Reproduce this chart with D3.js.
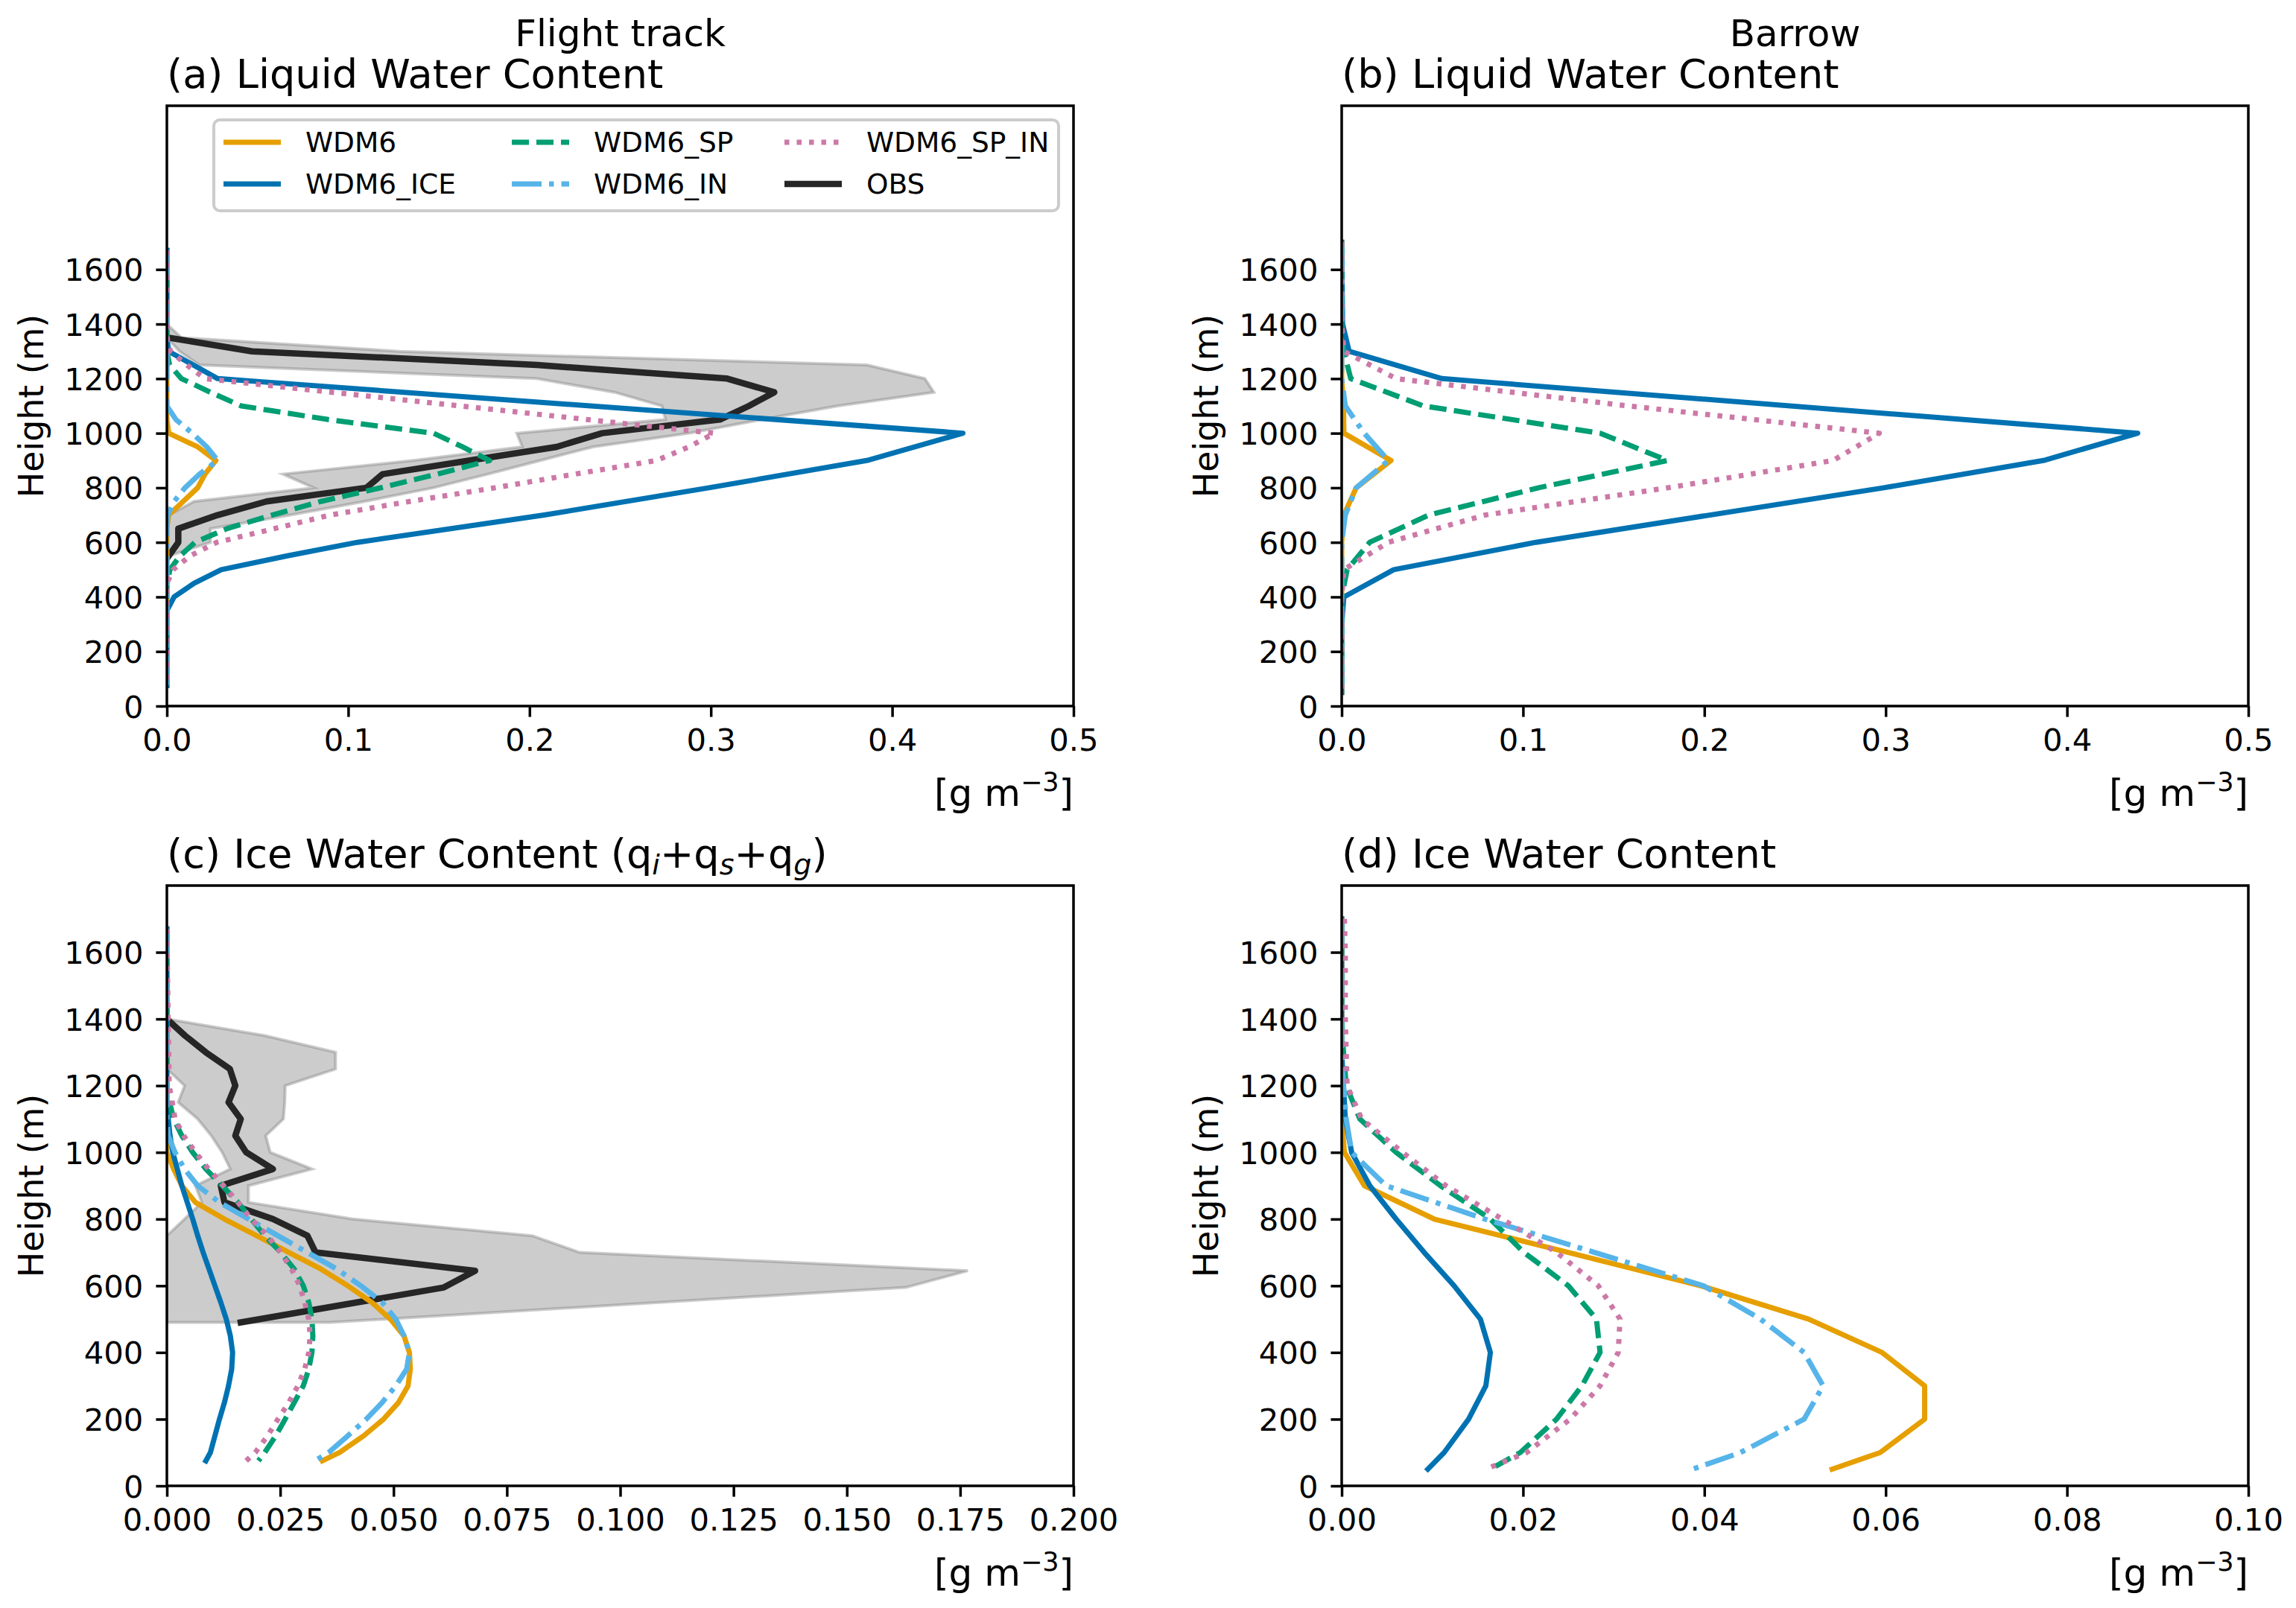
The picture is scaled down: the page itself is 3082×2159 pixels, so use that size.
<!DOCTYPE html>
<html>
<head>
<meta charset="utf-8">
<script src="https://cdn.jsdelivr.net/npm/d3@7"></script>
<style>
  body { margin: 0; background: #fff; }
  text { font-family: "DejaVu Sans", sans-serif; fill: #000; }
</style>
</head>
<body>
<svg id="fig" width="3082" height="2159"></svg>
<script>
// ---- (a) liquid water content, flight track ----
const levelsA = [1670, 1400, 1350, 1300, 1250, 1200, 1150, 1100, 1050, 1000, 950, 900, 850, 800, 750, 700, 650, 600, 550, 500, 450, 400, 350, 75];
const lwcFlightWDM6 = [0, 0, 0, 0, 0, 0, 0, 0, 0, 0.001, 0.017, 0.027, 0.021, 0.017, 0.009, 0.001, 0, 0, 0, 0, 0, 0, 0, 0];
const lwcFlightICE = [0, 0, 0, 0.001, null, 0.028, null, null, null, 0.439, null, 0.386, null, 0.299, null, 0.208, null, 0.105, 0.066, 0.030, 0.015, 0.004, 0, 0];
const lwcFlightSP = [0, 0, 0, 0, 0.0015, 0.008, 0.024, 0.041, 0.089, 0.147, 0.163, 0.178, 0.149, 0.118, 0.085, 0.058, 0.033, 0.0155, 0.0072, 0.0017, 0, 0, 0, 0];
const lwcFlightIN = [0, 0, 0, 0, 0, 0, 0, 0, 0.005, 0.014, 0.022, 0.028, 0.018, 0.010, 0.004, 0.0005, 0, 0, 0, 0, 0, 0, 0, 0];
const lwcFlightSPIN = [0, 0, 0, 0.002, 0.011, 0.021, null, null, null, 0.302, 0.288, 0.27, 0.225, 0.181, 0.134, 0.090, 0.059, 0.0275, 0.0127, 0.0035, 0, 0, 0, 0];

const obsLevelsA = [1350, 1300, 1250, 1200, 1150, 1100, 1050, 1000, 950, 900, 850, 800, 750, 700, 650, 600, 550];
const lwcObs = [0.001, 0.047, 0.204, 0.309, 0.335, 0.321, 0.305, 0.240, 0.215, 0.167, 0.119, 0.110, 0.055, 0.028, 0.0063, 0.0063, 0.001];
const bandLevelsA = [1400, 1350, 1300, 1250, 1200, 1150, 1100, 1050, 1000, 950, 900, 850, 800, 750, 700, 650, 600, 550];
const lwcObsMax = [0, 0.008, 0.128, 0.386, 0.418, 0.423, 0.370, 0.328, 0.288, 0.235, 0.206, 0.177, 0.147, 0.109, 0.068, 0.024, 0.024, 0.001];
const lwcObsMin = [0, 0, 0.007, 0.018, 0.204, 0.247, 0.273, 0.275, 0.193, 0.196, 0.136, 0.064, 0.081, 0.015, 0.001, 0, 0, 0];

// ---- (b) liquid water content, Barrow ----
const levelsB = [1700, 1400, 1300, 1200, 1100, 1000, 900, 800, 700, 600, 500, 400, 300, 50];
const lwcBarrowWDM6 = [0, 0, 0, 0, 0.001, 0.0012, 0.0272, 0.008, 0.0012, 0, 0, 0, 0, 0];
const lwcBarrowICE = [0, 0.0005, 0.0041, 0.0553, null, 0.439, 0.387, 0.299, null, 0.107, 0.0287, 0.0012, 0, 0];
const lwcBarrowSP = [0, 0, 0.0012, 0.005, 0.045, 0.1426, 0.1796, 0.1086, 0.048, 0.0154, 0.003, 0, 0, 0];
const lwcBarrowIN = [0, 0, 0, 0, 0.002, 0.0124, 0.0257, 0.008, 0.002, 0, 0, 0, 0, 0];
const lwcBarrowSPIN = [0, 0, 0.0012, 0.030, 0.158, 0.2965, 0.271, 0.18, 0.079, 0.0257, 0.0012, 0, 0, 0];

// ---- (c) ice water content, flight track ----
const levelsC = [1670, 1200, 1150, 1100, 1050, 1000, 950, 900, 850, 800, 750, 700, 650, 600, 550, 500, 450, 400, 350, 300, 250, 200, 150, 100, 75];
const iwcFlightWDM6 = [0, 0, 0, 0, 0, 0, 0.0015, 0.0033, 0.0063, 0.0127, 0.0198, 0.0269, 0.034, 0.0399, 0.0452, 0.0493, 0.0523, 0.0535, 0.0537, 0.0532, 0.0511, 0.0478, 0.0434, 0.0381, 0.0343];
const iwcFlightICE = [0, 0, 0, 0.0003, 0.0007, 0.0013, 0.0023, 0.0033, 0.0045, 0.0057, 0.0068, 0.008, 0.0093, 0.0106, 0.0119, 0.0131, 0.014, 0.0145, 0.0143, 0.0136, 0.0127, 0.0116, 0.0106, 0.0096, 0.0086];
const iwcFlightSP = [0, 0, 0.0006, 0.0015, 0.0033, 0.0057, 0.0086, 0.0122, 0.0157, 0.0186, 0.0216, 0.0251, 0.0281, 0.0301, 0.0313, 0.032, 0.0322, 0.032, 0.0313, 0.0301, 0.0281, 0.0261, 0.024, 0.0216, 0.0202];
const iwcFlightIN = [0, 0, 0, 0, 0.0003, 0.0018, 0.0039, 0.0068, 0.0116, 0.018, 0.0245, 0.031, 0.0375, 0.0428, 0.0475, 0.0505, 0.0523, 0.0535, 0.0529, 0.0505, 0.0475, 0.044, 0.0399, 0.0357, 0.0326];
const iwcFlightSPIN = [0, 0.0005, 0.0012, 0.0018, 0.0037, 0.0063, 0.0092, 0.0125, 0.0157, 0.0186, 0.0222, 0.0251, 0.0275, 0.0293, 0.0304, 0.0313, 0.0316, 0.0313, 0.0304, 0.0289, 0.0269, 0.0245, 0.0222, 0.0195, 0.0175];

const obsLevelsC = [1400, 1350, 1300, 1250, 1200, 1150, 1100, 1050, 1000, 950, 900, 850, 800, 750, 700, 645, 595, 490];
const iwcObs = [0, 0.004, 0.0086, 0.0139, 0.0151, 0.0136, 0.0163, 0.0151, 0.0175, 0.0234, 0.0119, 0.0127, 0.0234, 0.031, 0.0328, 0.068, 0.0611, 0.0163];
const iwcObsMax = [0, 0.0216, 0.0372, 0.0372, 0.0261, 0.026, 0.0257, 0.0218, 0.0228, 0.032, 0.018, 0.018, 0.041, 0.0806, 0.091, 0.1767, 0.163, 0.036];
const iwcObsMin = [0, 0, 0, 0, 0.0039, 0.0025, 0.0068, 0.0098, 0.0122, 0.014, 0.0063, 0.0077, 0.0039, 0, 0, 0, 0, 0];

// ---- (d) ice water content, Barrow ----
const levelsD = [1700, 1600, 1500, 1400, 1300, 1200, 1100, 1000, 900, 800, 700, 600, 500, 400, 300, 200, 100, 50];
const iwcBarrowWDM6 = [0, 0, 0, 0, 0, 0, 0, 0.0003, 0.0025, 0.0102, 0.025, 0.0396, 0.0515, 0.0596, 0.0643, 0.0643, 0.0594, 0.0541];
const iwcBarrowICE = [0, 0, 0, 0, 0, 0.0002, 0.0004, 0.0011, 0.0031, 0.006, 0.0091, 0.0124, 0.0153, 0.0164, 0.0159, 0.014, 0.0113, 0.0095];
const iwcBarrowSP = [0, 0, 0, 0, 0.0002, 0.0005, 0.002, 0.006, 0.0109, 0.0164, 0.0201, 0.025, 0.0281, 0.0285, 0.0265, 0.0237, 0.0197, 0.0164];
const iwcBarrowIN = [0, 0, 0, 0, 0, 0.0002, 0.0005, 0.0011, 0.0049, 0.0158, 0.0279, 0.0399, 0.0462, 0.051, 0.0531, 0.051, 0.044, 0.0387];
const iwcBarrowSPIN = [0.0003, 0.0004, 0.0004, 0.0004, 0.0005, 0.0006, 0.0022, 0.0067, 0.0115, 0.0177, 0.0237, 0.0283, 0.0307, 0.0305, 0.0285, 0.0252, 0.0204, 0.0159];

const heightTicks = [0, 200, 400, 600, 800, 1000, 1200, 1400, 1600];
const lwcTicks = [0, 0.1, 0.2, 0.3, 0.4, 0.5];
const iwcFlightTicks = [0, 0.025, 0.05, 0.075, 0.1, 0.125, 0.15, 0.175, 0.2];
const iwcBarrowTicks = [0, 0.02, 0.04, 0.06, 0.08, 0.1];

const modelNames = ['WDM6', 'WDM6_ICE', 'WDM6_SP', 'WDM6_IN', 'WDM6_SP_IN'];

// line styles
const LW = 7;
const styles = {
  WDM6:       { color: '#E69F00', dash: null },
  WDM6_ICE:   { color: '#0072B2', dash: null },
  WDM6_SP:    { color: '#009E73', dash: '23 10' },
  WDM6_IN:    { color: '#56B4E9', dash: '40 10 6.5 10' },
  WDM6_SP_IN: { color: '#CC79A7', dash: '6.5 10' },
  OBS:        { color: '#262626', dash: null }
};

const AW = 1217, AH = 806;
const panels = [
  { id: 'a', left: 224, top: 142, xMax: 0.5, yMax: 2200, ticks: lwcTicks, fmt: '.1f',
    header: 'Flight track', title: '(a) Liquid Water Content',
    levels: levelsA, models: [lwcFlightWDM6, lwcFlightICE, lwcFlightSP, lwcFlightIN, lwcFlightSPIN],
    obsLevels: obsLevelsA, obs: lwcObs, bandLevels: bandLevelsA, bandMin: lwcObsMin, bandMax: lwcObsMax, legend: true },
  { id: 'b', left: 1801, top: 142, xMax: 0.5, yMax: 2200, ticks: lwcTicks, fmt: '.1f',
    header: 'Barrow', title: '(b) Liquid Water Content',
    levels: levelsB, models: [lwcBarrowWDM6, lwcBarrowICE, lwcBarrowSP, lwcBarrowIN, lwcBarrowSPIN] },
  { id: 'c', left: 224, top: 1189, xMax: 0.2, yMax: 1800, ticks: iwcFlightTicks, fmt: '.3f',
    title: '(c) Ice Water Content', subs: true,
    levels: levelsC, models: [iwcFlightWDM6, iwcFlightICE, iwcFlightSP, iwcFlightIN, iwcFlightSPIN],
    obsLevels: obsLevelsC, obs: iwcObs, bandLevels: obsLevelsC, bandMin: iwcObsMin, bandMax: iwcObsMax },
  { id: 'd', left: 1801, top: 1189, xMax: 0.1, yMax: 1800, ticks: iwcBarrowTicks, fmt: '.2f',
    title: '(d) Ice Water Content',
    levels: levelsD, models: [iwcBarrowWDM6, iwcBarrowICE, iwcBarrowSP, iwcBarrowIN, iwcBarrowSPIN] }
];

const svg = d3.select('#fig');
svg.append('rect').attr('width', 3082).attr('height', 2159).attr('fill', '#fff');

function pairs(levels, values) {
  return levels.map((h, i) => ({ h, v: values[i] })).filter(d => d.v != null);
}

function styleLine(sel, name) {
  const s = styles[name];
  sel.attr('fill', 'none')
    .attr('stroke', s.color)
    .attr('stroke-width', name === 'OBS' ? 8.5 : LW)
    .attr('stroke-linejoin', 'round')
    .attr('stroke-linecap', s.dash ? 'butt' : 'square');
  if (s.dash) sel.attr('stroke-dasharray', s.dash);
  return sel;
}

panels.forEach(p => {
  const bottom = p.top + AH;
  const x = d3.scaleLinear().domain([0, p.xMax]).range([p.left, p.left + AW]);
  const y = d3.scaleLinear().domain([0, p.yMax]).range([bottom, p.top]);
  const g = svg.append('g').attr('class', 'panel-' + p.id);

  g.append('clipPath').attr('id', 'clip-' + p.id)
    .append('rect').attr('x', p.left).attr('y', p.top).attr('width', AW).attr('height', AH);
  const plot = g.append('g').attr('clip-path', `url(#clip-${p.id})`);

  if (p.bandLevels) {
    const band = p.bandLevels.map((h, i) => ({ h, lo: p.bandMin[i], hi: p.bandMax[i] }));
    const area = d3.area().y(d => y(d.h)).x0(d => x(d.lo)).x1(d => x(d.hi));
    plot.append('path').datum(band).attr('d', area)
      .attr('fill', 'gray').attr('fill-opacity', 0.4)
      .attr('stroke', 'gray').attr('stroke-opacity', 0.4).attr('stroke-width', 4);
  }

  const line = d3.line().x(d => x(d.v)).y(d => y(d.h));

  if (p.obs) {
    plot.append('path').datum(pairs(p.obsLevels, p.obs)).attr('d', line).call(styleLine, 'OBS');
  }

  modelNames.forEach((name, i) => {
    plot.append('path').datum(pairs(p.levels, p.models[i])).attr('d', line).call(styleLine, name);
  });

  // axes
  const gx = g.append('g').attr('transform', `translate(0,${bottom})`)
    .call(d3.axisBottom(x).tickValues(p.ticks).tickFormat(d3.format(p.fmt))
      .tickSize(14.6).tickPadding(15.5).tickSizeOuter(0));
  const gy = g.append('g').attr('transform', `translate(${p.left},0)`)
    .call(d3.axisLeft(y).tickValues(heightTicks).tickFormat(d3.format('d'))
      .tickSize(14.6).tickPadding(17).tickSizeOuter(0));
  [gx, gy].forEach(ax => {
    ax.select('.domain').remove();
    ax.attr('font-family', null).attr('font-size', null);
    ax.selectAll('line').attr('stroke', '#000').attr('stroke-width', 3.5);
    ax.selectAll('text').attr('font-size', 41.7).attr('fill', '#000');
  });
  gy.selectAll('text').attr('dy', '0.36em');

  g.append('rect').attr('x', p.left).attr('y', p.top).attr('width', AW).attr('height', AH)
    .attr('fill', 'none').attr('stroke', '#000').attr('stroke-width', 3.5);

  // titles and labels
  if (p.header) {
    g.append('text').attr('x', p.left + AW / 2).attr('y', 62)
      .attr('text-anchor', 'middle').attr('font-size', 50).text(p.header);
  }
  const t = g.append('text').attr('x', p.left).attr('y', p.top - 24).attr('font-size', 54.2).text(p.title);
  if (p.subs) {
    t.append('tspan').text(' (q');
    ['i', 's', 'g'].forEach((s, k) => {
      t.append('tspan').attr('font-size', 38).attr('font-style', 'italic').attr('dy', 9).text(s);
      t.append('tspan').attr('dy', -9).text(k < 2 ? '+q' : ')');
    });
  }

  g.append('text')
    .attr('transform', `translate(${p.left - 166},${p.top + AH / 2}) rotate(-90)`)
    .attr('text-anchor', 'middle').attr('font-size', 45.8).text('Height (m)');

  const xl = g.append('text').attr('x', p.left + AW).attr('y', bottom + 134)
    .attr('text-anchor', 'end').attr('font-size', 50);
  xl.append('tspan').text('[g m');
  xl.append('tspan').attr('font-size', 35).attr('dy', -20).text('\u22123');
  xl.append('tspan').attr('dy', 20).text(']');

  if (p.legend) {
    const lg = g.append('g');
    lg.append('rect').attr('x', 287).attr('y', 161).attr('width', 1134).attr('height', 122)
      .attr('rx', 8).attr('fill', '#fff').attr('fill-opacity', 0.8)
      .attr('stroke', '#cccccc').attr('stroke-width', 4);
    const entries = modelNames.concat(['OBS']);
    const colX = [300, 687, 1053];
    const rowY = [191, 247];
    entries.forEach((name, i) => {
      const cx = colX[Math.floor(i / 2)], cy = rowY[i % 2];
      lg.append('line').attr('x1', cx).attr('x2', cx + 77).attr('y1', cy).attr('y2', cy)
        .call(styleLine, name).attr('stroke-linecap', 'butt');
      lg.append('text').attr('x', cx + 110).attr('y', cy + 13).attr('font-size', 37.5).text(name);
    });
  }
});
</script>
</body>
</html>
